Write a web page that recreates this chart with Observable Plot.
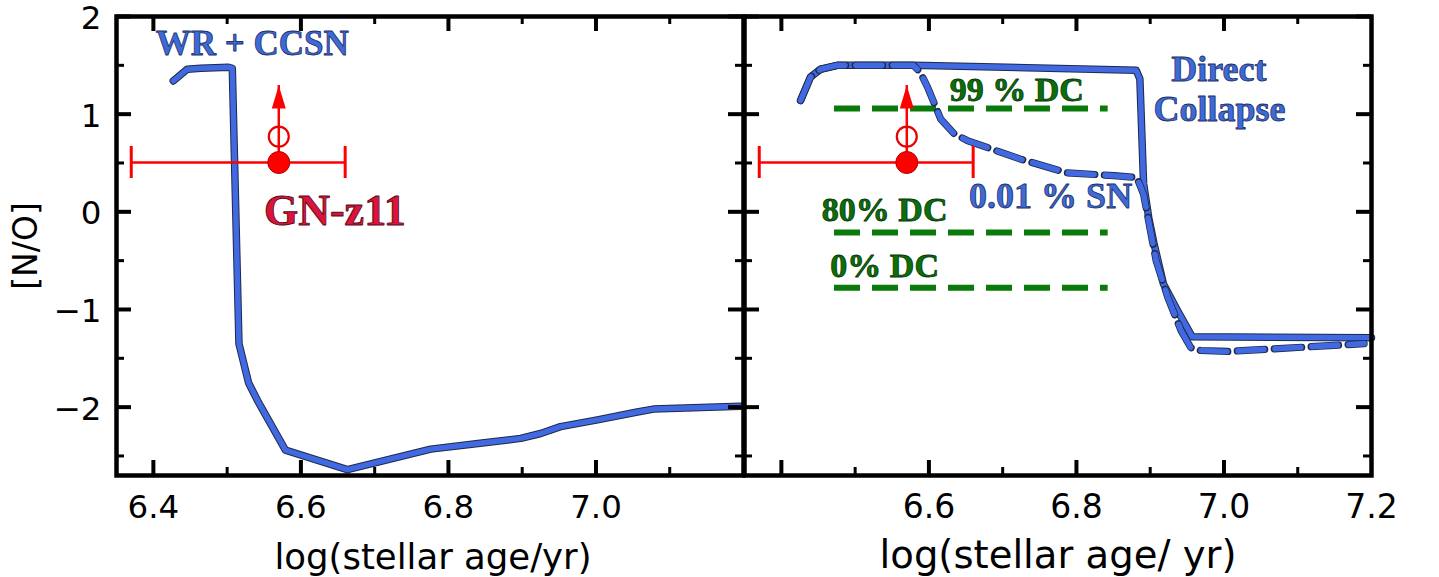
<!DOCTYPE html>
<html><head><meta charset="utf-8">
<script src="https://cdn.jsdelivr.net/npm/d3@7"></script>
<script src="https://cdn.jsdelivr.net/npm/@observablehq/plot@0.6"></script>
<style>
body{margin:0;background:#fff;}
#wrap{position:relative;width:1439px;height:577px;overflow:hidden;background:#fff;}
#wrap svg{position:absolute;top:0;}
</style></head><body><div id="wrap"></div>
<script>
// ---- axes ----
const xDomain = [6.35, 7.2];
const yDomain = [-2.7, 2];
const xMajorTicks = [6.4, 6.6, 6.8, 7.0];
const xMinorTicks = [6.5, 6.7, 6.9, 7.1];
const yMajorTicks = [-2, -1, 0, 1, 2];
const yMinorTicks = [-2.5, -1.5, -0.5, 0.5, 1.5];
const yTickLabels = ["\u22122", "\u22121", "0", "1", "2"];
const leftXTicks = [6.4, 6.6, 6.8, 7.0];
const leftXTickLabels = ["6.4", "6.6", "6.8", "7.0"];
const rightXTicks = [6.6, 6.8, 7.0, 7.2];
const rightXTickLabels = ["6.6", "6.8", "7.0", "7.2"];
const yLabel = "[N/O]";
const leftXLabel = "log(stellar age/yr)";
const rightXLabel = "log(stellar age/ yr)";

// ---- left panel: WR + CCSN ----
const wrAge = [6.427, 6.446, 6.464, 6.502, 6.507, 6.516, 6.529, 6.541, 6.579, 6.663, 6.776, 6.843, 6.898, 6.925, 6.952, 7.002, 7.056, 7.078, 7.196];
const wrNO  = [1.34, 1.46, 1.47, 1.48, 1.47, -1.35, -1.75, -1.93, -2.44, -2.64, -2.43, -2.37, -2.32, -2.27, -2.20, -2.13, -2.05, -2.02, -1.99];

// ---- right panel: Direct Collapse (solid) ----
const dcAge = [6.426, 6.4395, 6.453, 6.476, 6.579, 6.881, 6.886, 6.891, 6.898, 6.905, 6.918, 6.937, 6.957, 7.2];
const dcNO  = [1.14, 1.38, 1.46, 1.50, 1.50, 1.45, 1.36, 0.29, -0.06, -0.32, -0.74, -1.01, -1.28, -1.29];

// ---- right panel: 0.01 % SN (dashed) ----
const snAge = [6.426, 6.4395, 6.453, 6.476, 6.579, 6.588, 6.598, 6.616, 6.634, 6.652, 6.724, 6.787, 6.851, 6.882, 6.891, 6.897, 6.908, 6.924, 6.942, 6.955, 6.968, 7.005, 7.19];
const snNO  = [1.14, 1.38, 1.46, 1.50, 1.50, 1.43, 1.28, 0.95, 0.80, 0.73, 0.54, 0.40, 0.37, 0.35, 0.18, -0.06, -0.50, -0.88, -1.22, -1.39, -1.42, -1.43, -1.35];

// ---- DC fraction levels ----
const dcLevelNames = ["99 % DC", "80% DC", "0% DC"];
const dcLevelNO = [1.058, -0.212, -0.778];
const dcLevelAgeRange = [6.472, 6.843];
const dcLevelLabelAge = [6.719, 6.540, 6.540];
const dcLevelLabelNO = [1.139, -0.089, -0.663];

// ---- GN-z11 ----
const gnAge = 6.57, gnAgeLo = 6.37, gnAgeHi = 6.66;
const gnNO = 0.505, gnNOLimit = 0.77, gnNOArrowTip = 1.293;

// ---- text annotations ----
const leftNotes = [{text: "WR + CCSN", x: 6.534, y: 1.602}];
const gnNote = [{text: "GN-z11", x: 6.646, y: -0.14}];
const rightBlueNotes = [
  {text: "Direct", x: 6.993, y: 1.344},
  {text: "Collapse", x: 6.994, y: 0.934},
  {text: "0.01 % SN", x: 6.765, y: 0.044}
];

// ---------- helpers ----------
const BLUE = "#4169E1";
const pts = (xs, ys) => xs.map((x, i) => ({x, y: ys[i]}));
const H = 577, MT = 16, MB = 102;
const innerH = H - MT - MB;
const serif = "Liberation Serif";

const arrowHead = {
  draw(ctx) { ctx.moveTo(0, 0); ctx.lineTo(7, 23); ctx.lineTo(-7, 23); ctx.closePath(); }
};

function frameMarks(innerW) {
  return [
    Plot.tickX(xMajorTicks, {x: d => d, insetTop: innerH - 15, strokeWidth: 4, stroke: "black"}),
    Plot.tickX(xMinorTicks, {x: d => d, insetTop: innerH - 8, strokeWidth: 3, stroke: "black"}),
    Plot.tickX(xMajorTicks, {x: d => d, insetBottom: innerH - 15, strokeWidth: 4, stroke: "black"}),
    Plot.tickX(xMinorTicks, {x: d => d, insetBottom: innerH - 8, strokeWidth: 3, stroke: "black"}),
    Plot.tickY(yMajorTicks, {y: d => d, insetRight: innerW - 15, strokeWidth: 4, stroke: "black"}),
    Plot.tickY(yMinorTicks, {y: d => d, insetRight: innerW - 8, strokeWidth: 3, stroke: "black"}),
    Plot.tickY(yMajorTicks, {y: d => d, insetLeft: innerW - 15, strokeWidth: 4, stroke: "black"}),
    Plot.tickY(yMinorTicks, {y: d => d, insetLeft: innerW - 8, strokeWidth: 3, stroke: "black"}),
    Plot.frame({stroke: "black", strokeWidth: 4.5})
  ];
}

function gnMarks() {
  const g = [{x: gnAge, lo: gnAgeLo, hi: gnAgeHi, y: gnNO, lim: gnNOLimit, tip: gnNOArrowTip}];
  return [
    Plot.ruleY(g, {y: "y", x1: "lo", x2: "hi", stroke: "red", strokeWidth: 2.5}),
    Plot.ruleX(g, {x: "lo", y1: "y", y2: "y", insetTop: -16, insetBottom: -16, stroke: "red", strokeWidth: 3}),
    Plot.ruleX(g, {x: "hi", y1: "y", y2: "y", insetTop: -16, insetBottom: -16, stroke: "red", strokeWidth: 3}),
    Plot.ruleX(g, {x: "x", y1: "y", y2: "tip", stroke: "red", strokeWidth: 2.5}),
    Plot.dot(g, {x: "x", y: "tip", symbol: arrowHead, fill: "red", stroke: "none"}),
    Plot.dot(g, {x: "x", y: "lim", r: 10, fill: "none", stroke: "#e80000", strokeWidth: 2.2}),
    Plot.dot(g, {x: "x", y: "y", r: 11, fill: "red", stroke: "#b00000", strokeWidth: 1})
  ];
}

function outlinedLine(data, dashed) {
  if (!dashed) return [
    Plot.line(data, {x: "x", y: "y", stroke: "#1e2a4a", strokeWidth: 7.5, strokeLinejoin: "round"}),
    Plot.line(data, {x: "x", y: "y", stroke: BLUE, strokeWidth: 5.5, strokeLinejoin: "round"})
  ];
  return [
    Plot.line(data, {x: "x", y: "y", stroke: "#1e2a4a", strokeWidth: 7.2, strokeDasharray: "27.5,9.5", strokeDashoffset: 0.75}),
    Plot.line(data, {x: "x", y: "y", stroke: BLUE, strokeWidth: 5.6, strokeDasharray: "26,11"})
  ];
}

const wrap = document.getElementById("wrap");

// ---------- left panel ----------
{
  const W = 745, ML = 116, MR = 2;
  const innerW = W - ML - MR;
  const p = Plot.plot({
    width: W, height: H, marginLeft: ML, marginRight: MR, marginTop: MT, marginBottom: MB,
    x: {domain: xDomain},
    y: {domain: yDomain},
    style: {background: "transparent", fontFamily: "DejaVu Sans", fontSize: "32px", overflow: "visible", color: "black"},
    marks: [
      ...outlinedLine(pts(wrAge, wrNO), false),
      ...gnMarks(),
      Plot.text(leftNotes, {x: "x", y: "y", text: "text", fontFamily: serif, fontWeight: "bold", fontSize: 35,
        fill: "#3e6ad6", stroke: "#1c2f6a", strokeWidth: 0.8, paintOrder: "normal", lineAnchor: "bottom", textAnchor: "middle"}),
      Plot.text(gnNote, {x: "x", y: "y", text: "text", fontFamily: serif, fontWeight: "bold", fontSize: 44,
        fill: "#DC143C", stroke: "#5a0a18", strokeWidth: 0.9, paintOrder: "normal", lineAnchor: "bottom", textAnchor: "middle"}),
      ...frameMarks(innerW),
      Plot.axisX(leftXTicks, {anchor: "bottom", tickSize: 0, tickPadding: 19, fontSize: 32.5, label: null,
        tickFormat: d => leftXTickLabels[leftXTicks.indexOf(d)]}),
      Plot.axisY(yMajorTicks, {anchor: "left", tickSize: 0, tickPadding: 15, fontSize: 32.5, label: null, dy: 2,
        tickFormat: d => yTickLabels[yMajorTicks.indexOf(d)]}),
      Plot.text([yLabel], {text: d => d, frameAnchor: "left", textAnchor: "middle", rotate: -90, dx: -90, fontSize: 33}),
      Plot.text([leftXLabel], {text: d => d, frameAnchor: "bottom", textAnchor: "middle", dx: 3, dy: 93, lineAnchor: "bottom", fontSize: 35.5})
    ]
  });
  p.style.left = "0px";
  wrap.appendChild(p);
}

// ---------- right panel ----------
{
  const W = 739, ML = 44, MR = 68;
  const innerW = W - ML - MR;
  const levels = dcLevelNO.map((y, i) => ({y, name: dcLevelNames[i], lx: dcLevelLabelAge[i], ly: dcLevelLabelNO[i]}));
  const p = Plot.plot({
    width: W, height: H, marginLeft: ML, marginRight: MR, marginTop: MT, marginBottom: MB,
    x: {domain: xDomain},
    y: {domain: yDomain, axis: null},
    style: {background: "transparent", fontFamily: "DejaVu Sans", fontSize: "32px", overflow: "visible", color: "black"},
    marks: [
      Plot.ruleY(levels, {y: "y", x1: dcLevelAgeRange[0], x2: dcLevelAgeRange[1], stroke: "#0a7a0a", strokeWidth: 6, strokeDasharray: "26,12"}),
      ...outlinedLine(pts(dcAge, dcNO), false),
      ...outlinedLine(pts(snAge, snNO), true),
      ...gnMarks(),
      Plot.text(levels, {x: "lx", y: "ly", text: "name", fontFamily: serif, fontWeight: "bold", fontSize: 34,
        fill: "#0c6e0c", stroke: "#043804", strokeWidth: 0.8, paintOrder: "normal", lineAnchor: "bottom", textAnchor: "middle"}),
      Plot.text(rightBlueNotes, {x: "x", y: "y", text: "text", fontFamily: serif, fontWeight: "bold", fontSize: 36,
        fill: "#3e6ad6", stroke: "#1c2f6a", strokeWidth: 0.8, paintOrder: "normal", lineAnchor: "bottom", textAnchor: "middle"}),
      ...frameMarks(innerW),
      Plot.axisX(rightXTicks, {anchor: "bottom", tickSize: 0, tickPadding: 19, fontSize: 33, label: null,
        tickFormat: d => rightXTickLabels[rightXTicks.indexOf(d)]}),
      Plot.text([rightXLabel], {text: d => d, frameAnchor: "bottom", textAnchor: "middle", dy: 92, lineAnchor: "bottom", fontSize: 38.6})
    ]
  });
  p.style.left = "700px";
  wrap.appendChild(p);
}
</script></body></html>
